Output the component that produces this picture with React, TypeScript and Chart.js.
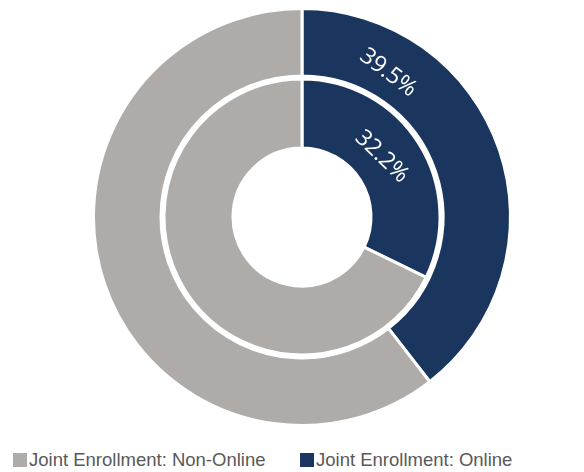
import React, { useEffect, useRef } from "react";
import { Chart, registerables } from "chart.js";

Chart.register(...registerables);

// Legend order
const categories = ["Joint Enrollment: Non-Online", "Joint Enrollment: Online"];
const colors = ["#AEABA9", "#1B365E"];
// Outer ring (percent), legend order
const outerValues = [60.5, 39.5];
// Inner ring (percent), legend order
const innerValues = [67.8, 32.2];

// chart draws Online first (starting at 12 o'clock, clockwise)
const chartOrder = [1, 0];

const labelFont = "23px 'Open Sans', 'DejaVu Sans', sans-serif";

// label placement: dataset index, arc index, fraction along arc, fraction across ring, rotation (deg)
const labelSpecs = [
  { dataset: 0, index: 0, along: 0.217, across: 0.4, rotation: 37 },
  { dataset: 2, index: 0, along: 0.456, across: 0.45, rotation: 44 },
];

const ringLabelPlugin = {
  id: "ringLabels",
  afterDatasetsDraw(chart: any) {
    const ctx = chart.ctx;
    labelSpecs.forEach((spec) => {
      const meta = chart.getDatasetMeta(spec.dataset);
      const arc = meta.data[spec.index];
      if (!arc) return;
      const p = arc.getProps(["x", "y", "startAngle", "endAngle", "innerRadius", "outerRadius"], true);
      const ds = chart.data.datasets[spec.dataset].data as number[];
      const total = ds.reduce((s: number, v: number) => s + v, 0);
      const text = ((ds[spec.index] / total) * 100).toFixed(1) + "%";
      const a = p.startAngle + (p.endAngle - p.startAngle) * spec.along;
      const r = p.innerRadius + (p.outerRadius - p.innerRadius) * spec.across;
      ctx.save();
      ctx.translate(p.x + r * Math.cos(a), p.y + r * Math.sin(a));
      ctx.rotate((spec.rotation * Math.PI) / 180);
      ctx.font = labelFont;
      ctx.fillStyle = "#FFFFFF";
      ctx.textAlign = "center";
      ctx.textBaseline = "middle";
      ctx.fillText(text, 0, 0);
      ctx.restore();
    });
  },
};

export default function App() {
  const canvasRef = useRef<HTMLCanvasElement | null>(null);

  useEffect(() => {
    if (!canvasRef.current) return;
    const orderedLabels = chartOrder.map((i) => categories[i]);
    const orderedColors = chartOrder.map((i) => colors[i]);
    const chart = new Chart(canvasRef.current, {
      type: "doughnut",
      data: {
        labels: orderedLabels,
        datasets: [
          {
            label: "Outer",
            data: chartOrder.map((i) => outerValues[i]),
            backgroundColor: orderedColors,
            borderColor: "#FFFFFF",
            borderWidth: 3,
            weight: 67.5,
          },
          {
            label: "spacer",
            data: [1],
            backgroundColor: ["rgba(0,0,0,0)"],
            borderWidth: 0,
            weight: 3,
          },
          {
            label: "Inner",
            data: chartOrder.map((i) => innerValues[i]),
            backgroundColor: orderedColors,
            borderColor: "#FFFFFF",
            borderWidth: 3,
            weight: 69,
          },
        ] as any,
      },
      options: {
        animation: false,
        responsive: false,
        maintainAspectRatio: false,
        cutout: "33.1%",
        layout: { padding: { top: 7, bottom: 3, left: 92, right: 72 } },
        plugins: {
          legend: { display: false },
          tooltip: { enabled: false },
        },
      },
      plugins: [ringLabelPlugin],
    });
    return () => chart.destroy();
  }, []);

  const legendLeft = [13, 300];

  return (
    <div style={{ position: "absolute", left: 0, top: 0, width: 584, height: 472, background: "#FFFFFF" }}>
      <canvas ref={canvasRef} width={584} height={430} style={{ position: "absolute", left: 0, top: 0, width: 584, height: 430 }} />
      {categories.map((c, i) => (
        <div
          key={c}
          style={{
            position: "absolute",
            left: legendLeft[i],
            top: 451,
            height: 18,
            display: "flex",
            alignItems: "center",
            fontFamily: "'Liberation Sans', Arial, sans-serif",
            fontSize: 18.5,
            lineHeight: "18px",
            color: "#595959",
            whiteSpace: "nowrap",
          }}
        >
          <span style={{ display: "inline-block", width: 14, height: 14, background: colors[i], marginRight: 2 }} />
          <span>{c}</span>
        </div>
      ))}
    </div>
  );
}
